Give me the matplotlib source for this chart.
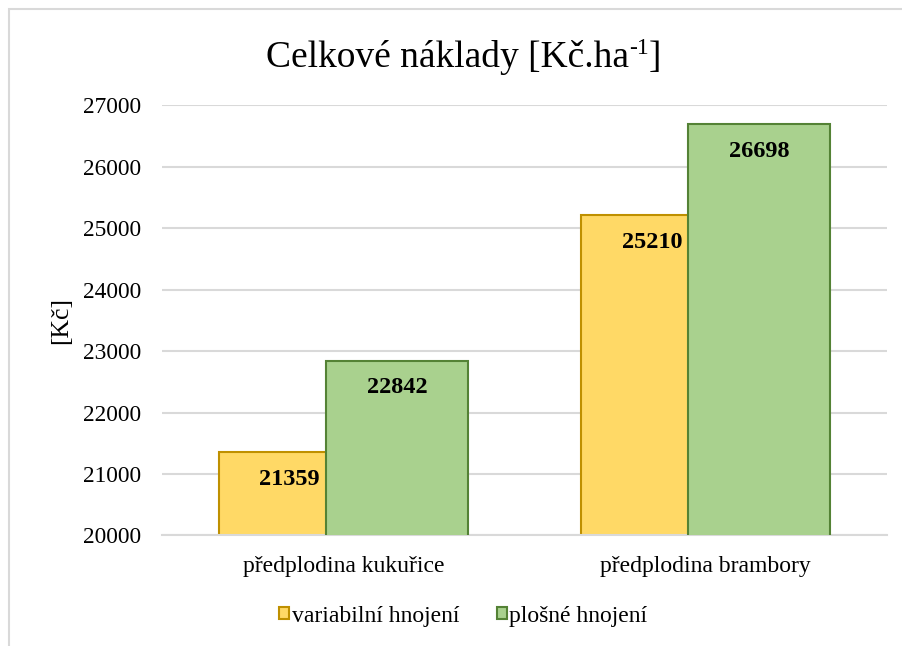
import matplotlib.pyplot as plt
import numpy as np
from matplotlib.patches import Rectangle, Patch

plt.rcParams['font.family'] = ['Liberation Serif', 'DejaVu Serif']

categories = ['předplodina kukuřice', 'předplodina brambory']
variabilni = [21359, 25210]
plosne = [22842, 26698]
series_names = ['variabilní hnojení', 'plošné hnojení']
yticks = [20000, 21000, 22000, 23000, 24000, 25000, 26000, 27000]

fig = plt.figure(figsize=(9.03, 6.46), dpi=100)
ax = fig.add_axes([0.1794, 0.1711, 0.8029, 0.6656])

x = np.arange(len(categories))
w = 0.392
off = 0.148
b1 = ax.bar(x - off, variabilni, w, color='#FFD966', edgecolor='#BF9000',
            linewidth=1.5, zorder=2)
b2 = ax.bar(x + off, plosne, w, color='#A9D18E', edgecolor='#548235',
            linewidth=1.5, zorder=3)

for bars, vals in [(b1, variabilni), (b2, plosne)]:
    for r, v in zip(bars, vals):
        ax.annotate(str(v), (r.get_x() + r.get_width() / 2, v), xytext=(0, -19.5),
                    textcoords='offset points', ha='center', va='center',
                    fontsize=17.5, fontweight='bold', zorder=5)

ax.set_xlim(-0.5, 1.5)
ax.set_ylim(20000, 27000)
ax.set_yticks(yticks)
ax.set_xticks(x)
ax.set_xticklabels(categories, fontsize=17)
ax.tick_params(axis='y', labelsize=16.8, length=0, pad=15)
ax.tick_params(axis='x', length=0, pad=15)
ax.grid(axis='y', color='#D9D9D9', linewidth=1.5, zorder=0)
ax.set_axisbelow(True)
for s in ['top', 'right', 'left']:
    ax.spines[s].set_visible(False)
ax.spines['bottom'].set_color('#D9D9D9')
ax.spines['bottom'].set_linewidth(1.5)

ax.set_ylabel('[Kč]', fontsize=18.5)
ax.yaxis.set_label_coords(-0.124, 0.5)

# title: main text + small superscript + closing bracket
t1 = fig.text(0, 0.896, 'Celkové náklady [Kč.ha', ha='left', va='baseline', fontsize=27)
t2 = fig.text(0, 0, '-1', fontsize=17, ha='left', va='baseline')
t3 = fig.text(0, 0, ']', fontsize=27, ha='left', va='baseline')
fig.canvas.draw()
r = fig.canvas.get_renderer()
wd1 = t1.get_window_extent(r).width / fig.bbox.width
wd2 = t2.get_window_extent(r).width / fig.bbox.width
wd3 = t3.get_window_extent(r).width / fig.bbox.width
x0 = 0.513 - (wd1 + wd2 + wd3) / 2
t1.set_x(x0)
t2.set_position((x0 + wd1, 0.896 + 0.021))
t3.set_position((x0 + wd1 + wd2, 0.896))

handles = [Patch(facecolor='#FFD966', edgecolor='#BF9000', linewidth=1.5),
           Patch(facecolor='#A9D18E', edgecolor='#548235', linewidth=1.5)]
fig.legend(handles, series_names, loc='center', bbox_to_anchor=(0.513, 0.046),
           ncol=2, frameon=False, fontsize=17, handlelength=0.42, handleheight=0.42,
           handletextpad=0.1, columnspacing=1.6)

fig.patches.append(Rectangle((9 / 903, -0.1), 1.2, 1.0 - 9.5 / 646 + 0.1,
                             transform=fig.transFigure, fill=False,
                             edgecolor='#D9D9D9', linewidth=1.5))

fig.savefig('out.png', dpi=100)
